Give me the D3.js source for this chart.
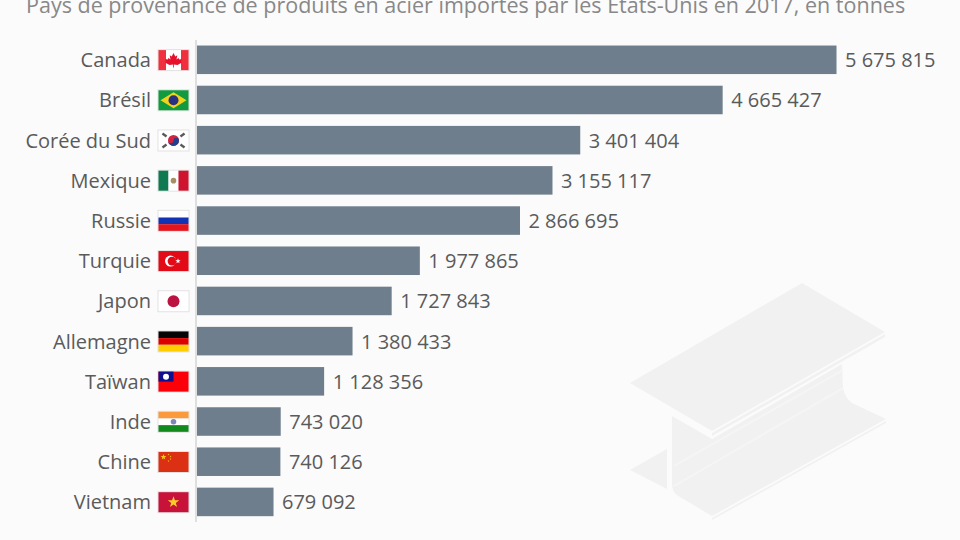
<!DOCTYPE html>
<html>
<head>
<meta charset="utf-8">
<script src="https://cdn.jsdelivr.net/npm/d3@7"></script>
<style>
  html, body { margin: 0; padding: 0; background: #fbfbfb; }
  svg { display: block; font-family: "Open Sans", sans-serif; }
</style>
</head>
<body>
<svg id="chart"></svg>
<script>
const data = [
    { pays: "Canada", valeur: 5675815, flag: "ca" },
    { pays: "Brésil", valeur: 4665427, flag: "br" },
    { pays: "Corée du Sud", valeur: 3401404, flag: "kr" },
    { pays: "Mexique", valeur: 3155117, flag: "mx" },
    { pays: "Russie", valeur: 2866695, flag: "ru" },
    { pays: "Turquie", valeur: 1977865, flag: "tr" },
    { pays: "Japon", valeur: 1727843, flag: "jp" },
    { pays: "Allemagne", valeur: 1380433, flag: "de" },
    { pays: "Taïwan", valeur: 1128356, flag: "tw" },
    { pays: "Inde", valeur: 743020, flag: "in" },
    { pays: "Chine", valeur: 740126, flag: "cn" },
    { pays: "Vietnam", valeur: 679092, flag: "vn" }
];

const width = 960, height = 540;
const svg = d3.select("#chart").attr("width", width).attr("height", height);

svg.append("rect").attr("width", width).attr("height", height).attr("fill", "#fbfbfb");

// poutre en arriere-plan
const beam = svg.append("g");
[
    "M802,283 L885,332 L712,431 L630,383Z",
    "M885,334 L712,433 L712,436 L885,337Z",
    "M672,416 L712,439 L842,364 L843,388 Q845,398 852,403 L886,419 L712,516 L680,497 Q672,493 672,484Z",
    "M886,421 L712,518 L712,520 L886,423Z",
    "M667,449 L667,489 L630,470Z"
].forEach(p => beam.append("path").attr("d", p).attr("fill", "#f1f1f1"));
// reflets du profil
[
    "M674,486 L843,388",
    "M674,466 L843,370"
].forEach(p => beam.append("path").attr("d", p).attr("stroke", "#f5f5f5").attr("stroke-width", 2).attr("fill", "none"));

svg.append("text")
    .attr("x", 26).attr("y", 12.5)
    .attr("font-size", 19.2 * 879 / 784)
    .attr("fill", "#888888")
    .text("Pays de provenance de produits en acier importés par les États-Unis en 2017, en tonnes");

const x = d3.scaleLinear().domain([0, 5675815]).range([197, 836.5]);
const y = d3.scaleBand()
    .domain(data.map(d => d.pays))
    .range([39.7, 522])
    .paddingInner(0.29)
    .paddingOuter(0.145);

const fmt = d3.formatLocale({ decimal: ",", thousands: " ", grouping: [3], currency: ["", ""] }).format(",d");

svg.append("line")
    .attr("x1", 196).attr("x2", 196)
    .attr("y1", 40).attr("y2", 522)
    .attr("stroke", "#d6d6d6").attr("stroke-width", 1.5);

svg.selectAll(".bar").data(data).enter().append("rect")
    .attr("class", "bar")
    .attr("x", x(0))
    .attr("y", d => y(d.pays))
    .attr("width", d => x(d.valeur) - x(0))
    .attr("height", y.bandwidth())
    .attr("fill", "#6f7e8c");

svg.selectAll(".valeur").data(data).enter().append("text")
    .attr("class", "valeur")
    .attr("x", d => x(d.valeur) + 8.5)
    .attr("y", d => y(d.pays) + y.bandwidth() / 2)
    .attr("dy", "0.37em")
    .attr("font-size", 20)
    .attr("fill", "#5a5a5a")
    .text(d => fmt(d.valeur));

svg.selectAll(".pays").data(data).enter().append("text")
    .attr("class", "pays")
    .attr("x", 151)
    .attr("y", d => y(d.pays) + y.bandwidth() / 2)
    .attr("dy", "0.37em")
    .attr("text-anchor", "end")
    .attr("font-size", 20)
    .attr("fill", "#5a5a5a")
    .text(d => d.pays);

// drapeaux, dessines dans une boite de 30 x 20
const stripesH = (g, cols) => cols.forEach((c, i) => g.append("rect")
    .attr("y", i * 20 / cols.length).attr("width", 30).attr("height", 20 / cols.length).attr("fill", c));
const stripesV = (g, cols) => cols.forEach((c, i) => g.append("rect")
    .attr("x", i * 30 / cols.length).attr("width", 30 / cols.length).attr("height", 20).attr("fill", c));
const star = (cx, cy, r) => d3.range(10).map(i => {
    const a = -Math.PI / 2 + i * Math.PI / 5, q = i % 2 ? r * 0.4 : r;
    return [cx + q * Math.cos(a), cy + q * Math.sin(a)].join(",");
}).join(" ");
const circle = (g, cx, cy, r, fill) => g.append("circle").attr("cx", cx).attr("cy", cy).attr("r", r).attr("fill", fill);

const flags = {
    ca: g => {
        stripesV(g, ["#f0303f", "#ffffff", "#ffffff", "#f0303f"]);
        g.append("polygon").attr("points", "15,3 16.8,6.3 18.8,5.2 18,9.5 20,7.8 20.8,9.5 23.5,9 22.5,11.5 23.5,12.5 19,15 15.4,14.5 15.4,17.5 14.6,17.5 14.6,14.5 11,15 6.5,12.5 7.5,11.5 6.5,9 9.2,9.5 10,7.8 12,9.5 11.2,5.2 13.2,6.3").attr("fill", "#e8112d");
    },
    br: g => {
        stripesH(g, ["#129a3e"]);
        g.append("polygon").attr("points", "15,2 28,10 15,18 2,10").attr("fill", "#f2d21c");
        circle(g, 15, 10, 5, "#2b3180");
    },
    kr: g => {
        stripesH(g, ["#ffffff"]);
        circle(g, 15, 10, 5.5, "#d3233f");
        g.append("path").attr("d", "M9.5,10 A5.5,5.5 0 0 0 20.5,10 A2.75,2.75 0 0 0 15,10 A2.75,2.75 0 0 1 9.5,10Z").attr("fill", "#20418f");
        [[6, 4.5, 35], [24, 4.5, -35], [6, 15.5, -35], [24, 15.5, 35]].forEach(b =>
            g.append("rect").attr("x", b[0] - 2.5).attr("y", b[1] - 1.2).attr("width", 5).attr("height", 2.4)
                .attr("transform", `rotate(${b[2]} ${b[0]} ${b[1]})`).attr("fill", "#5a5a5a"));
    },
    mx: g => {
        stripesV(g, ["#0f7a52", "#ffffff", "#cf1430"]);
        circle(g, 15, 10, 2.8, "#a58f63");
    },
    ru: g => stripesH(g, ["#ffffff", "#1233b4", "#e3161f"]),
    tr: g => {
        stripesH(g, ["#e30a17"]);
        circle(g, 12, 10, 5.5, "#fff");
        circle(g, 13.5, 10, 4.4, "#e30a17");
        g.append("polygon").attr("points", star(19.5, 10, 2.8)).attr("fill", "#fff");
    },
    jp: g => {
        stripesH(g, ["#ffffff"]);
        circle(g, 15, 10, 6, "#bc1440");
    },
    de: g => stripesH(g, ["#050505", "#dd0000", "#ffce00"]),
    tw: g => {
        stripesH(g, ["#fb0009"]);
        g.append("rect").attr("width", 15).attr("height", 10).attr("fill", "#10108f");
        circle(g, 7.5, 5, 3, "#fff");
    },
    in: g => {
        stripesH(g, ["#fb9a3c", "#ffffff", "#138a1c"]);
        circle(g, 15, 10, 2.8, "#7d86b8");
    },
    cn: g => {
        stripesH(g, ["#dc3014"]);
        g.append("polygon").attr("points", star(5, 5, 3)).attr("fill", "#f8c81a");
        [[10, 2.5], [12, 4.5], [12, 7], [10, 9]].forEach(s =>
            g.append("polygon").attr("points", star(s[0], s[1], 1)).attr("fill", "#f8c81a"));
    },
    vn: g => {
        stripesH(g, ["#c8123a"]);
        g.append("polygon").attr("points", star(15, 10, 6)).attr("fill", "#fbcb2c");
    }
};

const flagG = svg.selectAll(".flag").data(data).enter().append("g")
    .attr("class", "flag")
    .attr("transform", d => `translate(158.5,${y(d.pays) + y.bandwidth() / 2 - 9.7})`);

flagG.append("rect")
    .attr("x", -1).attr("y", -1).attr("width", 32).attr("height", 22)
    .attr("fill", "#e2e2e2");

flagG.each(function (d) { flags[d.flag](d3.select(this)); });
</script>
</body>
</html>
